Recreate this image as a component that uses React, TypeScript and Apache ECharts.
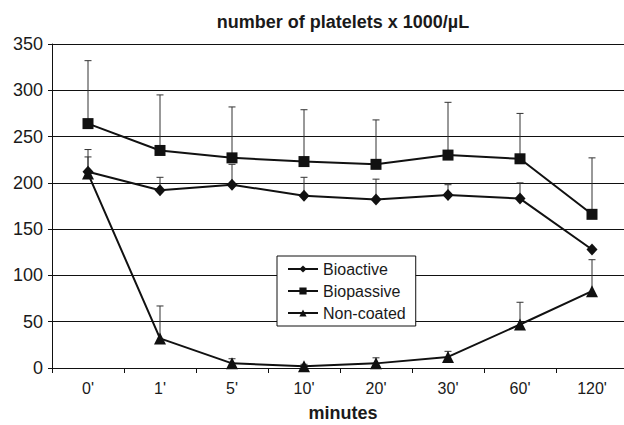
import React, { useEffect, useRef } from "react";
import * as echarts from "echarts";

const categories = ["0'", "1'", "5'", "10'", "20'", "30'", "60'", "120'"];
const bioactive = [212, 192, 198, 186, 182, 187, 183, 128];
const bioactiveErrTop = [236, 206, 220, 206, 204, 198, 200, null];
const biopassive = [264, 235, 227, 223, 220, 230, 226, 166];
const biopassiveErrTop = [332, 295, 282, 279, 268, 287, 275, 227];
const nonCoated = [210, 32, 5, 2, 5, 12, 47, 83];
const nonCoatedErrTop = [228, 67, 10, 4, 11, 18, 71, 117];
const yTicks = { min: 0, max: 350, interval: 50 };

const FONT = "'Liberation Sans', Arial, sans-serif";
const TEXT = "#1a1a1a";

function errData(vals: number[], tops: (number | null)[]) {
  const out: any[] = [];
  vals.forEach((v, i) => {
    const t = tops[i];
    if (t != null) out.push([i, v, t]);
  });
  return out;
}

function errSeries(name: string, vals: number[], tops: (number | null)[]) {
  return {
    type: "custom",
    name: name + "-err",
    data: errData(vals, tops),
    encode: { x: 0, y: [1, 2] },
    z: 1,
    silent: true,
    renderItem: (params: any, api: any) => {
      const x = api.value(0);
      const p1 = api.coord([x, api.value(1)]);
      const p2 = api.coord([x, api.value(2)]);
      const stroke = { stroke: "#333", lineWidth: 1 };
      return {
        type: "group",
        children: [
          { type: "line", shape: { x1: p1[0], y1: p1[1], x2: p2[0], y2: p2[1] }, style: stroke },
          { type: "line", shape: { x1: p2[0] - 3.5, y1: p2[1], x2: p2[0] + 3.5, y2: p2[1] }, style: stroke },
        ],
      };
    },
  };
}

function lineSeries(name: string, vals: number[], symbol: string, size: number | number[]) {
  return {
    type: "line",
    name,
    data: vals,
    symbol,
    symbolSize: size,
    z: 3,
    lineStyle: { color: "#111", width: 2 },
    itemStyle: { color: "#111" },
  };
}

export default function App() {
  const ref = useRef<HTMLDivElement>(null);
  useEffect(() => {
    if (!ref.current) return;
    const chart = echarts.init(ref.current, undefined, { renderer: "svg" });
    chart.setOption({
      animation: false,
      backgroundColor: "#fff",
      grid: { left: 52, top: 44, width: 576, height: 324 },
      graphic: [
        {
          type: "text",
          x: 343,
          y: 22,
          style: {
            text: "number of platelets x 1000/µL",
            textAlign: "center",
            textVerticalAlign: "middle",
            font: `bold 18px ${FONT}`,
            fill: TEXT,
          },
        },
        {
          type: "text",
          x: 343,
          y: 413,
          style: {
            text: "minutes",
            textAlign: "center",
            textVerticalAlign: "middle",
            font: `bold 18px ${FONT}`,
            fill: TEXT,
          },
        },
      ],
      legend: {
        left: 277,
        top: 256,
        orient: "vertical",
        padding: [5, 10, 5, 10],
        itemGap: 6,
        itemWidth: 30,
        itemHeight: 9,
        backgroundColor: "#fff",
        borderColor: "#111",
        borderWidth: 1,
        borderRadius: 0,
        textStyle: { fontFamily: FONT, fontSize: 16, color: TEXT },
        data: ["Bioactive", "Biopassive", "Non-coated"],
      },
      xAxis: {
        type: "category",
        data: categories,
        boundaryGap: true,
        axisLine: { lineStyle: { color: "#111", width: 1 } },
        axisTick: { show: true, length: 5, interval: 0, lineStyle: { color: "#111" } },
        axisLabel: { fontFamily: FONT, fontSize: 16, color: TEXT, margin: 12, interval: 0 },
        splitLine: { show: false },
      },
      yAxis: {
        type: "value",
        min: yTicks.min,
        max: yTicks.max,
        interval: yTicks.interval,
        axisLine: { show: true, lineStyle: { color: "#111", width: 1 } },
        axisTick: { show: true, length: 4, lineStyle: { color: "#111" } },
        axisLabel: { fontFamily: FONT, fontSize: 18, color: TEXT, margin: 9 },
        splitLine: { show: true, lineStyle: { color: "#111", width: 1 } },
      },
      series: [
        errSeries("Bioactive", bioactive, bioactiveErrTop),
        errSeries("Biopassive", biopassive, biopassiveErrTop),
        errSeries("Non-coated", nonCoated, nonCoatedErrTop),
        lineSeries("Bioactive", bioactive, "diamond", [11, 12]),
        lineSeries("Biopassive", biopassive, "rect", 11),
        lineSeries("Non-coated", nonCoated, "triangle", 12),
      ],
    });
    return () => chart.dispose();
  }, []);
  return (
    <div
      style={{ position: "fixed", left: 0, top: 0, width: 624, height: 425, overflow: "hidden", background: "#fff" }}
    >
      <div ref={ref} style={{ width: 640, height: 425 }} />
    </div>
  );
}
